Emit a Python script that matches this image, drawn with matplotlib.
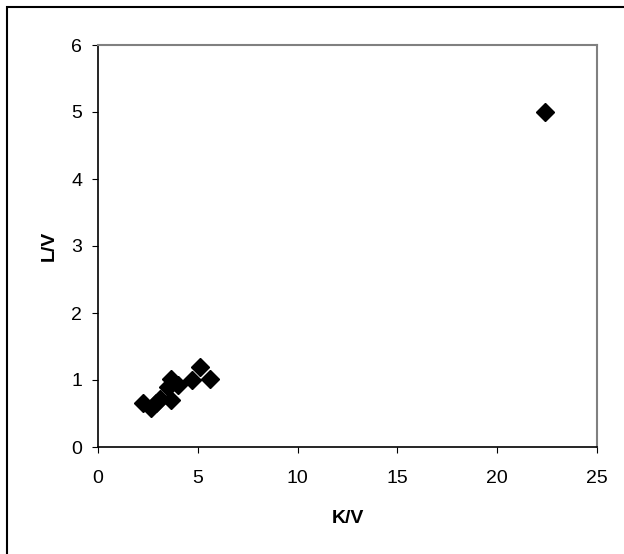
import matplotlib
matplotlib.use("Agg")
import matplotlib.pyplot as plt
from matplotlib.patches import Rectangle

plt.rcParams['font.family'] = ['Liberation Sans', 'DejaVu Sans']

kv = [2.27, 2.68, 2.9, 3.1, 3.5, 3.68, 4.0, 3.68, 4.72, 5.12, 5.63, 22.4]
lv = [0.65, 0.58, 0.65, 0.72, 0.9, 1.02, 0.93, 0.7, 1.0, 1.2, 1.02, 5.0]

x_ticks = [0, 5, 10, 15, 20, 25]
y_ticks = [0, 1, 2, 3, 4, 5, 6]

fig = plt.figure(figsize=(6.24, 5.54), dpi=100)
ax = fig.add_axes([98 / 624, 1 - 447 / 554, (597 - 98) / 624, (447 - 45) / 554])

ax.plot(kv, lv, linestyle='none', marker='D', markersize=9.5,
        color='black', clip_on=False)

ax.set_xlim(0, 25)
ax.set_ylim(0, 6)
ax.set_xticks(x_ticks)
ax.set_yticks(y_ticks)
ax.tick_params(labelsize=14, length=4.3, direction='out', color='black')
ax.tick_params(axis='x', pad=12)
ax.tick_params(axis='y', pad=7)

for side in ['top', 'right']:
    ax.spines[side].set_color('#808080')
    ax.spines[side].set_linewidth(1.5)
for side in ['left', 'bottom']:
    ax.spines[side].set_color('black')
    ax.spines[side].set_linewidth(1.2)

ax.set_xlabel('K/V', fontsize=14, fontweight='bold', labelpad=17)
ax.set_ylabel('L/V', fontsize=14, fontweight='bold', labelpad=10)

# chart area border (clipped at right/bottom in the original)
fig.patches.append(Rectangle((7 / 624, -0.1), 1.2, 1.1 - 7 / 554,
                             transform=fig.transFigure, fill=False,
                             edgecolor='black', linewidth=1.5))

fig.savefig('out.png', dpi=100)
